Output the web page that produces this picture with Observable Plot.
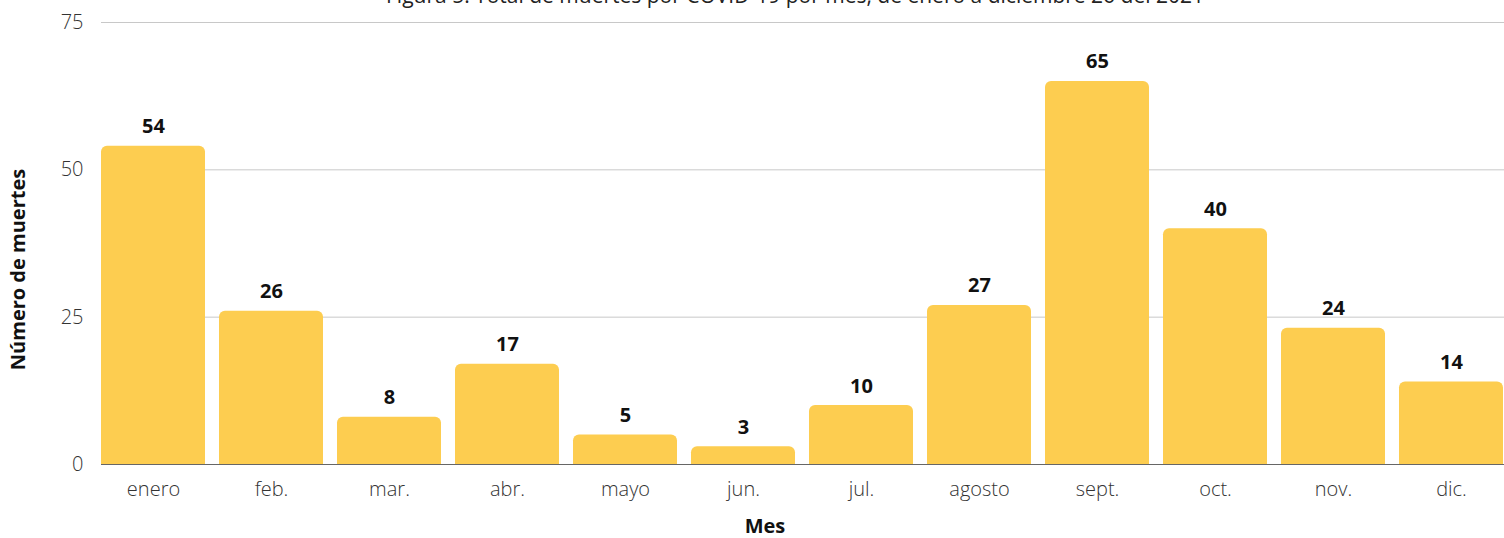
<!DOCTYPE html>
<html>
<head>
<meta charset="utf-8">
<script src="https://cdn.jsdelivr.net/npm/d3@7"></script>
<script src="https://cdn.jsdelivr.net/npm/@observablehq/plot@0.6"></script>
<style>
  html, body { margin: 0; padding: 0; background: #fff; overflow: hidden; }
  body { width: 1504px; height: 538px; position: relative; font-family: "Open Sans", sans-serif; }
  #title { position: absolute; top: -19px; left: 0; width: 1590px; text-align: center; font-size: 21px; line-height: 28px; font-weight: 400; color: #222; white-space: nowrap; z-index: 2; }
  #chart { position: absolute; top: 0; left: 0; }
</style>
</head>
<body>
<div id="chart"></div>
<div id="title">Figura 5. Total de muertes por COVID-19 por mes, de enero a diciembre 26 del 2021</div>
<script>
const months = ["enero","feb.","mar.","abr.","mayo","jun.","jul.","agosto","sept.","oct.","nov.","dic."];
const deaths = [54, 26, 8, 17, 5, 3, 10, 27, 65, 40, 23.1, 14];
const valueLabels = ["54","26","8","17","5","3","10","27","65","40","24","14"];
const yTicks = [0, 25, 50, 75];
const yLabel = "Número de muertes";
const xLabel = "Mes";

const data = months.map((m, i) => ({month: m, value: deaths[i], label: valueLabels[i]}));
const barColor = "#FDCD50";

const chart = Plot.plot({
  width: 1504,
  height: 538,
  marginLeft: 101,
  marginRight: -2,
  marginTop: 22,
  marginBottom: 74,
  style: {fontFamily: "'Open Sans', sans-serif", background: "transparent"},
  x: {domain: months, paddingInner: 0.12, paddingOuter: 0, align: 0, label: null},
  y: {domain: [0, 75], label: null},
  marks: [
    Plot.ruleY(yTicks.filter(d => d > 0), {stroke: "#c8c8c8", strokeWidth: 1}),
    Plot.barY(data, {x: "month", y: "value", fill: barColor, ry1: 6}),
    Plot.ruleY([0], {stroke: "#666", strokeWidth: 1.2}),
    Plot.text(data, {x: "month", y: "value", text: "label", dy: -13, lineAnchor: "bottom", fontSize: 20, fontWeight: 700, fill: "#111"}),
    Plot.axisY({ticks: yTicks, tickSize: 0, tickPadding: 18, fontSize: 20, fontWeight: 300, color: "#333", label: null}),
    Plot.axisX({tickSize: 0, tickPadding: 17, fontSize: 20, fontWeight: 300, color: "#333", label: null}),
    Plot.text([yLabel], {frameAnchor: "left", textAnchor: "middle", dx: -83, dy: 26, rotate: -90, fontSize: 20, fontWeight: 700, fill: "#111"}),
    Plot.text([xLabel], {frameAnchor: "bottom", dx: -39, dy: 68, fontSize: 20, fontWeight: 700, fill: "#111"})
  ]
});
document.getElementById("chart").appendChild(chart);
</script>
</body>
</html>
